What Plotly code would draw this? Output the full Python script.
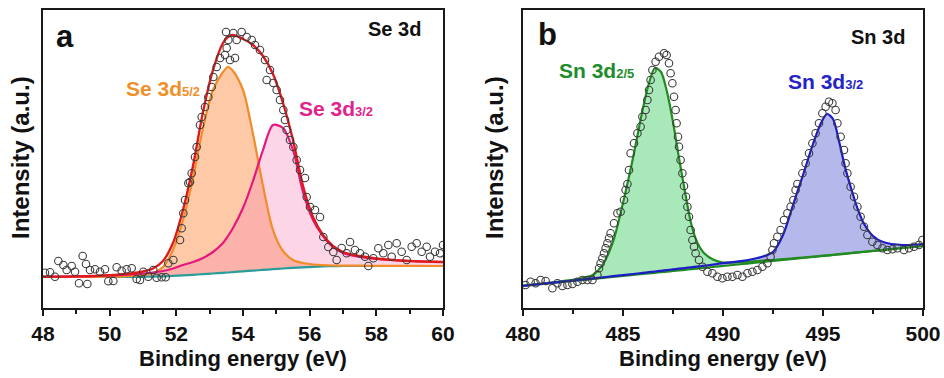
import plotly.graph_objects as go

# ---------------- Panel a : Se 3d ----------------
a_pts_x = [48.06, 48.21, 48.36, 48.46, 48.61, 48.71, 48.86, 48.96, 49.08, 49.19, 49.29, 49.33, 49.41, 49.56,
           49.71, 49.86, 49.96, 50.11, 50.21, 50.36, 50.51, 50.66, 50.81, 50.91, 51.01, 51.16, 51.31, 51.41,
           51.56, 51.68, 51.76, 51.91, 52.11, 52.16, 52.21, 52.26, 52.36, 52.41, 52.46, 52.56, 52.61, 52.71,
           52.76, 52.86, 52.96, 53.06, 53.11, 53.21, 53.31, 53.46, 53.51, 53.56, 53.61, 53.76, 53.81, 53.49,
           53.71, 53.96, 54.11, 54.26, 54.36, 54.51, 54.66, 54.71, 54.81, 54.91, 55.01, 55.11, 55.21, 55.26,
           55.31, 55.41, 55.51, 55.61, 55.71, 55.86, 55.91, 56.01, 56.16, 56.31, 56.41, 56.56, 56.71, 56.81,
           56.96, 57.11, 57.21, 57.36, 57.51, 57.66, 57.76, 57.91, 58.06, 58.21, 58.36, 58.46, 58.61, 58.76,
           58.91, 59.06, 59.21, 59.36, 59.51, 59.61, 59.76, 59.91, 60.0]
a_pts_y = [35.3, 35.7, 31.3, 47, 43, 38, 42, 36.3, 24.7, 52, 44, 24, 38, 38.7,
           36.3, 38.7, 26.7, 27, 40.7, 37.3, 38.7, 39.7, 29, 28, 36.3, 31.3, 38, 30.3,
           30.7, 30.7, 44.7, 48, 68, 79.7, 94.7, 108, 124.7, 126, 134.7, 151, 161, 183,
           191, 201, 211, 221, 231, 241, 250, 253, 260, 268, 248, 250, 268, 276,
           275, 276, 271, 268, 263, 258, 248, 228, 238, 225, 218, 208, 198, 188,
           178, 168, 161, 148, 138, 130, 111, 101, 98, 91, 71, 61, 56, 48,
           60, 54.7, 66, 58, 54.7, 51.3, 42, 49.7, 59.7, 54.7, 63, 51.3, 64.7, 56.3,
           48, 61.3, 64.7, 56.3, 61.3, 51.3, 56.3, 54.7, 63]

a_fit_x = [48, 49, 50, 50.5, 51, 51.3, 51.6, 51.9, 52.2, 52.5, 52.8, 53.1, 53.4, 53.55, 53.7, 54.0, 54.3,
           54.6, 54.9, 55.2, 55.5, 55.8, 56.1, 56.4, 56.7, 57.0, 57.5, 58, 59, 60]
a_background = [31, 31, 31, 31, 31.2, 31.4, 31.7, 32.1, 32.6, 33.2, 33.8, 34.5, 35.2, 35.5, 35.9, 36.7, 37.4,
                38.1, 38.8, 39.5, 40.1, 40.7, 41.2, 41.6, 41.9, 42, 42, 42, 42, 42]
a_se52 = [31, 31, 31.3, 31.8, 33, 35, 41, 58, 88, 130, 180, 218, 236, 241, 237, 218, 174,
          122, 78, 57, 48, 45, 43.5, 42.8, 42.5, 42.4, 42.3, 42.2, 42.1, 42]
a_se32 = [31.2, 31.6, 32.5, 33.3, 34.5, 35.5, 37, 39.5, 43, 46, 50, 56, 65, 72, 80, 100, 127,
          158, 183, 180, 158, 116, 88, 72, 61, 55, 51, 49, 47, 46]
a_envelope = [31.2, 31.6, 32.8, 34, 36.5, 39.5, 47, 65, 98, 142, 196, 238, 265, 271, 273, 269, 263,
              252, 234, 205, 168, 122, 91, 73, 62, 56, 52, 49.5, 47, 46]

# ---------------- Panel b : Sn 3d ----------------
b_pts_x = [480.13, 480.38, 480.63, 480.88, 481.13, 481.47, 481.72, 481.97, 482.22, 482.47, 482.72, 482.97,
           483.22, 483.47, 483.72, 483.8, 483.88, 483.97, 484.05, 484.13, 484.22, 484.3, 484.38, 484.55,
           484.72, 484.88, 485.05, 485.13, 485.22, 485.3, 485.38, 485.55, 485.72, 485.88, 485.97, 486.13,
           486.22, 486.3, 486.38, 486.47, 486.63, 486.8, 487.05, 487.18, 487.3, 487.38, 487.47, 487.55,
           487.63, 487.68, 487.75, 487.8, 487.88, 487.97, 488.05, 488.15, 488.22, 488.3, 488.38, 488.47,
           488.55, 488.63, 488.8, 488.97, 489.22, 489.47, 489.72, 489.97, 490.22, 490.47, 490.72, 490.97,
           491.22, 491.47, 491.72, 491.97, 492.22, 492.38, 492.47, 492.55, 492.72, 492.88, 493.05, 493.22,
           493.38, 493.52, 493.63, 493.72, 493.97, 494.13, 494.3, 494.47, 494.63, 494.8, 494.97, 495.13,
           495.3, 495.47, 495.63, 495.72, 495.88, 496.05, 496.13, 496.22, 496.38, 496.55, 496.72, 496.88,
           497.05, 497.22, 497.47, 497.72, 497.97, 498.22, 498.47, 498.72, 499.05, 499.3, 499.55, 499.8,
           499.97]
b_pts_y = [23, 26.3, 24.7, 28, 27, 19.7, 24.7, 22, 23, 24, 26.3, 28,
           28, 28, 33, 39.7, 44.7, 49.7, 54.7, 59.7, 64.7, 69.7, 74.7, 84.7,
           94.7, 96.3, 108, 118, 124, 138, 154.7, 164.7, 174.7, 181.3, 191.3, 198,
           208, 218, 228, 238, 246.3, 251.3, 254.7, 253, 244.7, 234.7, 224.7, 211.3,
           198, 184.7, 171.3, 161.3, 148, 134.7, 122, 111.3, 101.3, 91.3, 78, 68,
           61.3, 54.7, 48, 41.3, 36.3, 34.7, 31.3, 29.7, 31.3, 31.3, 33, 31.3,
           34.7, 36.3, 38, 41.3, 44.7, 51.3, 58, 64.7, 71.3, 78, 88, 94.7,
           101.3, 108, 118, 124, 134.7, 144.7, 154.7, 164.7, 174.7, 184.7, 194.7, 201.3,
           206.3, 204.7, 198, 184.7, 171.3, 158, 144.7, 134.7, 121.3, 111.3, 101.3, 91.3,
           81.3, 73, 66.3, 63, 59.7, 58, 58.7, 59.7, 58, 59.7, 61.3, 63,
           68]

b_fit_x = [480, 482, 483, 483.5, 484, 484.5, 485, 485.5, 486, 486.3, 486.6, 486.9, 487.2, 487.5, 487.8,
           488.1, 488.4, 488.7, 489, 489.5, 490, 491, 491.5, 492, 492.5, 493, 493.5, 494, 494.5, 494.9,
           495.2, 495.5, 495.8, 496.1, 496.4, 496.7, 497, 497.5, 498, 499, 500]
b_background = [22, 26, 28, 29, 30, 31, 32, 33, 34, 34.6, 35.2, 35.8, 36.4, 37, 37.6,
                38.2, 38.8, 39.4, 40, 41, 42, 44, 45, 46, 47, 48, 49, 50, 51, 51.8,
                52.4, 53, 53.6, 54.2, 54.8, 55.4, 56, 57, 58, 60, 62]
b_sn52 = [22.5, 27, 30, 33, 44, 66, 105, 150, 200, 225, 240, 236, 216, 186, 150,
          116, 85, 66, 56, 48.5, 45.5, 46, 46.6, 47.3, 48, 48.8, 49.6, 50.5, 51.4, 52.1,
          52.6, 53.2, 53.8, 54.4, 55, 55.6, 56.2, 57.1, 58.1, 60, 62]
b_sn32 = [22.2, 26.4, 28.5, 29.6, 30.7, 31.8, 32.9, 34, 35.1, 35.8, 36.5, 37.2, 37.9, 38.6, 39.3,
          40, 40.7, 41.4, 42.1, 43.4, 44.8, 47.2, 49, 51.5, 56, 73, 103, 133, 164, 185,
          194, 189, 167, 141, 120, 101, 86, 72, 66, 63, 64]

FONT = "Liberation Sans, Arial, sans-serif"

fig = go.Figure()

def line(x, y, color, xa, ya, width=2.2, fill=None, fillcolor=None, show_line=True):
    fig.add_trace(go.Scatter(
        x=x, y=y, mode="lines", xaxis=xa, yaxis=ya,
        line=dict(color=color if show_line else "rgba(0,0,0,0)", width=width if show_line else 0,
                  shape="spline", smoothing=0.8),
        fill=fill, fillcolor=fillcolor, showlegend=False, hoverinfo="skip"))

# Panel a fills
line(a_fit_x, a_background, None, "x", "y", show_line=False)
line(a_fit_x, a_se52, None, "x", "y", fill="tonexty", fillcolor="rgb(253,201,166)", show_line=False)
line(a_fit_x, a_background, None, "x", "y", show_line=False)
line(a_fit_x, a_se32, None, "x", "y", fill="tonexty", fillcolor="rgba(246,132,180,0.33)", show_line=False)
# Panel a lines
line(a_fit_x, a_background, "#2a9d9a", "x", "y")
line(a_fit_x, a_se52, "#f28c28", "x", "y")
line(a_fit_x, a_se32, "#e6177f", "x", "y")
line(a_fit_x, a_envelope, "#e01a1c", "x", "y", width=2.4)
fig.add_trace(go.Scatter(x=a_pts_x, y=a_pts_y, mode="markers", xaxis="x", yaxis="y",
                         marker=dict(symbol="circle-open", size=7.5, color="#3a3a3a", line=dict(width=1.1)),
                         showlegend=False, hoverinfo="skip"))

# Panel b fills
line(b_fit_x, b_background, None, "x2", "y2", show_line=False)
line(b_fit_x, b_sn52, None, "x2", "y2", fill="tonexty", fillcolor="rgb(168,232,185)", show_line=False)
line(b_fit_x, b_background, None, "x2", "y2", show_line=False)
line(b_fit_x, b_sn32, None, "x2", "y2", fill="tonexty", fillcolor="rgb(180,184,234)", show_line=False)
# Panel b lines
line(b_fit_x, b_background, "#228b22", "x2", "y2")
line(b_fit_x, b_sn52, "#228b22", "x2", "y2")
line(b_fit_x, b_sn32, "#1c1cc8", "x2", "y2")
fig.add_trace(go.Scatter(x=b_pts_x, y=b_pts_y, mode="markers", xaxis="x2", yaxis="y2",
                         marker=dict(symbol="circle-open", size=7.5, color="#3a3a3a", line=dict(width=1.1)),
                         showlegend=False, hoverinfo="skip"))

W, H = 944, 378
def px(v): return v / W
def py(v): return (H - v) / H

xcommon = dict(showline=True, linewidth=2, linecolor="#1a1a1a", mirror=True, ticks="outside",
               ticklen=6, tickwidth=2, tickcolor="#1a1a1a", showgrid=False, zeroline=False,
               automargin=False,
               tickfont=dict(family=FONT, size=21, color="#111", weight="bold"),
               minor=dict(ticks="outside", ticklen=4, tickwidth=2, tickcolor="#1a1a1a", showgrid=False))
ycommon = dict(showline=True, linewidth=2, linecolor="#1a1a1a", mirror=True, ticks="",
               automargin=False,
               showticklabels=False, showgrid=False, zeroline=False, range=[0, 298])

fig.update_layout(
    width=W, height=H, margin=dict(l=0, r=0, t=0, b=0, pad=0, autoexpand=False),
    paper_bgcolor="white", plot_bgcolor="white",
    xaxis=dict(domain=[px(43), px(443)], range=[48, 60], dtick=2, tick0=48, anchor="y",
               **{**xcommon, "minor": {**xcommon["minor"], "dtick": 1}}),
    yaxis=dict(domain=[py(308), py(10)], anchor="x", **ycommon),
    xaxis2=dict(domain=[px(523), px(923)], range=[480, 500], dtick=5, tick0=480, anchor="y2",
                **{**xcommon, "minor": {**xcommon["minor"], "dtick": 2.5}}),
    yaxis2=dict(domain=[py(308), py(10)], anchor="x2", **ycommon),
)

def ann(text, x, y, size, color="#111", xanchor="left", angle=0):
    fig.add_annotation(text=text, x=x, y=y, xref="paper", yref="paper", xanchor=xanchor,
                       yanchor="middle", showarrow=False, textangle=angle,
                       font=dict(family=FONT, size=size, color=color, weight="bold"))

def sub(s):
    return '<span style="font-size:13px">' + s + '</span>'

ann("a", px(54), py(36), 31)
ann("b", px(536), py(34), 31)
ann("Se 3d", px(423), py(29), 20, xanchor="right")
ann("Sn 3d", px(907), py(37), 20, xanchor="right")
ann("Se 3d" + sub("5/2"), px(124), py(88), 21, color="#f0902a")
ann("Se 3d" + sub("3/2"), px(297), py(108), 21, color="#e0248c")
ann("Sn 3d" + sub("2/5"), px(557), py(70), 21, color="#1e8c2a")
ann("Sn 3d" + sub("3/2"), px(786), py(81), 21, color="#2424c4")
ann("Binding energy (eV)", px(243), py(358), 22, xanchor="center")
ann("Binding energy (eV)", px(723), py(358), 22, xanchor="center")
ann("Intensity (a.u.)", px(20), py(158), 24, xanchor="center", angle=-90)
ann("Intensity (a.u.)", px(494), py(158), 24, xanchor="center", angle=-90)

fig.write_html("out.html", config={"responsive": False, "displayModeBar": False},
               post_script="document.body.style.margin='0';document.body.style.overflow='hidden';")
